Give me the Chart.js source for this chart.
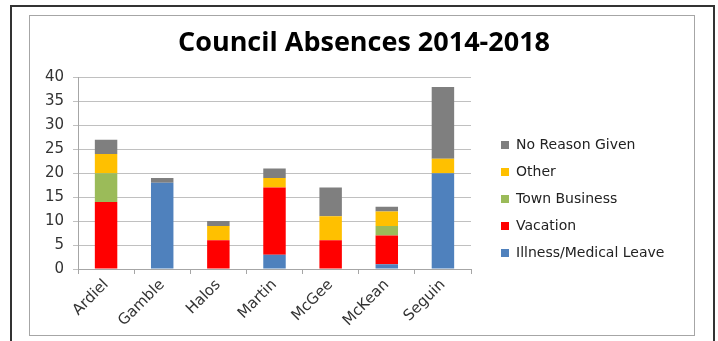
<!DOCTYPE html>
<html>
<head>
    <title>Council Absences 2014-2018</title>
    <style>
        body { margin: 0; background: #fff; }
        #frame {
            position: absolute; left: 10px; top: 5px; width: 701px; height: 340px;
            border-left: 2px solid #333; border-top: 2px solid #333; border-right: 2px solid #333;
        }
        #box {
            position: absolute; left: 29px; top: 15px; width: 664px; height: 319px;
            border: 1px solid #a6a6a6;
        }
        #chartContainer { position: absolute; left: 0; top: 0; width: 718px; height: 341px; }
    </style>
    <script src="https://cdn.jsdelivr.net/npm/chart.js"></script>
</head>
<body>
    <div id="frame"></div>
    <div id="box"></div>
    <div id="chartContainer">
        <canvas id="myChart" width="718" height="341"></canvas>
    </div>

    <script>
        // council members
        let members = ['Ardiel', 'Gamble', 'Halos', 'Martin', 'McGee', 'McKean', 'Seguin'];

        // absences per reason (stacked bottom to top)
        let illness = [0, 18, 0, 3, 0, 1, 20];
        let vacation = [14, 0, 6, 14, 6, 6, 0];
        let townBusiness = [6, 0, 0, 0, 0, 2, 0];
        let other = [4, 0, 3, 2, 5, 3, 3];
        let noReason = [3, 1, 1, 2, 6, 1, 15];

        let yTicks = [0, 5, 10, 15, 20, 25, 30, 35, 40];

        let font = 'DejaVu Sans';

        // the legend is wider than chart.js allows a side box to be, so fix its width,
        // then nudge it down a few pixels once the layout is done
        let legendWidth = {
            id: 'legendWidth',
            beforeLayout: function (chart) {
                let lg = chart.legend;
                if (lg && !lg._fixed) {
                    let fit = lg.fit;
                    lg.fit = function () {
                        fit.call(this);
                        this.width = 202;
                    };
                    lg._fixed = true;
                }
            },
            afterLayout: function (chart) {
                let lg = chart.legend;
                if (lg) {
                    lg.top += 4;
                    lg.bottom += 4;
                }
            }
        };

        let ctx = document.getElementById('myChart').getContext('2d');
        let myChart = new Chart(ctx, {
            type: 'bar',
            data: {
                labels: members,
                datasets: [
                    { label: 'Illness/Medical Leave', data: illness, backgroundColor: '#4f81bd' },
                    { label: 'Vacation', data: vacation, backgroundColor: '#ff0000' },
                    { label: 'Town Business', data: townBusiness, backgroundColor: '#9bbb59' },
                    { label: 'Other', data: other, backgroundColor: '#ffc000' },
                    { label: 'No Reason Given', data: noReason, backgroundColor: '#7f7f7f' }
                ]
            },
            plugins: [legendWidth],
            options: {
                responsive: false,
                animation: false,
                categoryPercentage: 1,
                barPercentage: 0.4,
                layout: { padding: { left: 38, top: 15, right: 28, bottom: 12 } },
                plugins: {
                    tooltip: { enabled: false },
                    title: {
                        display: true,
                        text: 'Council Absences 2014-2018',
                        color: '#000',
                        font: { family: 'Open Sans', size: 27, weight: 'bold', lineHeight: 1.2 },
                        padding: { top: 12, bottom: 18 }
                    },
                    legend: {
                        position: 'right',
                        reverse: true,
                        fullSize: false,
                        align: 'end',
                        labels: {
                            boxWidth: 8,
                            boxHeight: 8,
                            padding: 13,
                            color: '#222',
                            font: { family: font, size: 14 }
                        }
                    }
                },
                scales: {
                    x: {
                        stacked: true,
                        grid: { display: true, offset: true, drawOnChartArea: false, tickLength: 5, color: '#a6a6a6' },
                        border: { color: '#a6a6a6' },
                        ticks: { color: '#333', font: { family: font, size: 15 }, minRotation: 45, maxRotation: 45, padding: 2 },
                        afterFit: function (s) { s.height = 60; }
                    },
                    y: {
                        stacked: true,
                        min: 0,
                        max: 40,
                        afterBuildTicks: function (s) { s.ticks = yTicks.map(v => ({ value: v })); },
                        grid: { color: '#c0c0c0', tickLength: 5 },
                        border: { color: '#a6a6a6' },
                        ticks: { color: '#333', font: { family: font, size: 15 }, padding: 9 },
                        afterFit: function (s) { s.width = 40; }
                    },
                    // empty spacer between plot and legend
                    spacer: {
                        type: 'linear',
                        position: 'right',
                        grid: { display: false },
                        border: { display: false },
                        ticks: { display: false },
                        afterFit: function (s) { s.width = 17; }
                    }
                }
            }
        });
    </script>
</body>
</html>
